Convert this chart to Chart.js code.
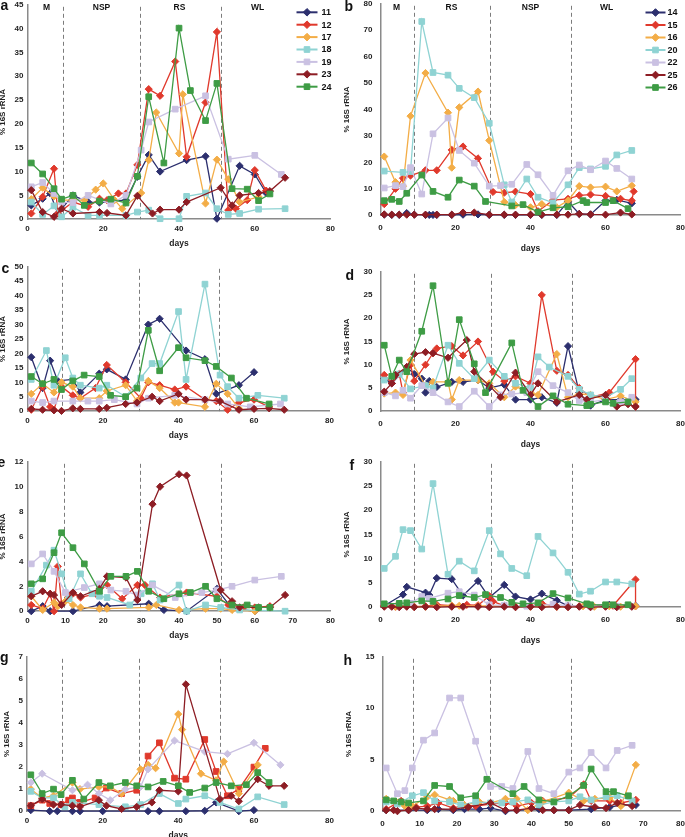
<!DOCTYPE html>
<html><head><meta charset="utf-8">
<script src="https://cdn.jsdelivr.net/npm/chart.js@4.4.0/dist/chart.umd.min.js"></script>
<style>
html,body{margin:0;padding:0;background:#fff;}
body{width:685px;height:837px;overflow:hidden;position:relative;}
canvas{position:absolute;}
</style>
</head><body>
<script>
// ---------- legend labels ----------
const leftLabels  = ['11','12','17','18','19','23','24'];
const rightLabels = ['14','15','16','20','22','25','26'];

// ---------- panel a ----------
const a11 = [[1,2.9],[4,4.3],[6,5.4],[8,1.2],[12,5.0],[16,3.6],[19,3.5],[22,3.8],[26,4.0],[29,8.9],[32,13.5],[35,10.0],[42,12.4],[47,13.2],[50,0.1],[56,11.2],[60,9.4],[63,5.5]];
const a12 = [[1,1.2],[4,4.7],[7,10.6],[8,1.2],[12,3.6],[16,2.6],[19,4.3],[21,4.0],[24,5.4],[26,5.4],[29,11.4],[32,27.3],[35,25.9],[39,33.1],[42,13.1],[47,24.5],[50,39.3],[53,1.9],[55,2.2],[58,4.0],[60,10.3],[63,6.0]];
const a17 = [[1,4.2],[4,6.6],[7,4.8],[9,4.0],[12,4.0],[15,4.0],[18,6.2],[20,7.5],[23,4.0],[25,2.2],[30,5.5],[32,12.4],[34,22.4],[40,13.8],[41,26.2],[47,3.3],[50,12.5],[53,8.4],[56,3.6],[61,4.7]];
const a18 = [[1,3.6],[4,1.0],[7,2.8],[9,0.5],[12,2.5],[16,0.8],[19,0.8],[26,0.8],[29,1.5],[32,1.9],[35,0.1],[40,0.1],[42,4.8],[47,5.5],[50,2.2],[53,1.0],[56,1.2],[61,2.1],[68,2.2]];
const a19 = [[1,6.8],[4,7.7],[7,5.4],[9,3.6],[12,3.5],[16,5.0],[22,3.2],[26,5.0],[30,14.5],[32,20.4],[39,23.1],[47,25.9],[53,12.6],[60,13.4],[67,9.4]];
const a23 = [[1,6.1],[4,1.5],[7,0.5],[9,2.2],[12,1.2],[19,1.5],[21,1.3],[26,0.8],[29,4.9],[33,1.2],[35,2.0],[40,2.0],[42,3.6],[51,6.6],[54,2.9],[56,5.0],[61,5.5],[64,5.9],[68,8.7]];
const a24 = [[1,11.8],[4,9.5],[7,6.4],[9,4.2],[12,5.0],[15,2.9],[19,3.8],[22,4.2],[26,3.4],[29,9.0],[32,25.7],[36,11.8],[40,40.1],[43,27.0],[47,20.7],[50,28.5],[54,6.4],[58,6.3],[61,3.9],[64,5.3]];

// ---------- panel b ----------
const b14 = [[1,0.2],[3,0.1],[5,0.1],[7,0.8],[9,0.2],[12,0.1],[13,0.1],[14,0.1],[15,0.1],[19,0.1],[22,0.2],[26,0.3],[29,0.1],[33,0.1],[36,0.1],[40,0.1],[43,0.1],[47,0.1],[50,5.2],[53,0.5],[56,0.3],[60,5.5],[63,5.8],[67,4.5]];
const b15 = [[1,4.2],[4,10],[6,14],[8,15],[12,17],[15,17],[19,24.7],[22,26],[26,21.5],[30,8.8],[33,8.5],[36,8.9],[40,8.0],[42,1.5],[46,5.7],[50,6.2],[53,7.5],[56,7.8],[60,7.3],[64,6.2],[67,5.5],[67.5,9.0]];
const b16 = [[1,22.2],[4,12.5],[6,11],[8,37.5],[12,53.8],[18,38.8],[19,18],[21,40.8],[26,46.8],[29,28.3],[33,5],[36,3.8],[40,3],[43,4.2],[47,3],[50,5.5],[53,11],[56,10.5],[60,10.8],[63,9],[67,11.2]];
const b20 = [[1,16.7],[6,16.2],[8,16.5],[11,73.3],[14,54],[18,53],[21,48],[25,44.5],[29,34.8],[33,11.5],[35,5],[39,13.7],[42,6.8],[46,4.7],[50,11.5],[53,18],[56,17.5],[60,18.5],[63,22.8],[67,24.5]];
const b22 = [[1,10.3],[4,11.2],[6,10.8],[8,18],[11,8],[14,30.8],[18,36.8],[21,24.5],[25,19.7],[29,11],[32,11.2],[35,11.7],[39,19.2],[42,15.3],[46,7.5],[50,16.8],[53,19],[56,17.2],[60,20.5],[63,17.7],[67,13.7]];
const b25 = [[1,0.3],[3,0.2],[5,0.2],[7,0.2],[9,0.2],[12,0.2],[15,0.2],[19,0.2],[22,1.0],[25,1.0],[29,0.2],[33,0.2],[36,0.2],[40,0.2],[43,0.2],[47,0.2],[50,0.2],[53,0.5],[56,0.3],[60,0.2],[64,1.0],[67,0.3]];
const b26 = [[1,5.5],[3,6],[5,5.2],[7,8.3],[11,15.2],[14,9],[18,6.8],[21,13.3],[25,11],[28,5.2],[35,3.5],[38,4],[42,1.2],[46,2.8],[50,3.2],[54,5.5],[55,4.8],[60,4.8],[62,5.5],[66,2.5]];

// ---------- panel c ----------
const c11 = [[1,18.7],[4,8],[6,17.5],[8,10.5],[12,11],[14,6.5],[19,13],[21,14.5],[26,11],[32,30],[35,32],[42,21],[47,18],[50,6],[56,9],[60,13.5]];
const c12 = [[1,0.5],[4,8.5],[6,1.5],[7,0.5],[9,8.5],[12,5.5],[14,4.5],[18,8],[21,16],[26,10],[30,4.5],[32,10],[35,9],[39,7.5],[42,8.5],[47,4],[50,3.5],[53,0.5],[56,3],[60,4],[64,1.5]];
const c17 = [[1,6],[4,9.5],[7,6.5],[9,10],[12,8.5],[14,4.5],[19,4.5],[21,7],[26,9],[29,3.5],[32,10.5],[35,8],[39,3],[40,3],[47,1.5],[50,9.5],[53,6],[56,1]];
const c18 = [[1,11],[5,21],[7,9],[10,18.5],[12,11.5],[14,9],[19,8],[21,9],[26,5],[30,11.5],[33,16.5],[35,16.5],[40,34.5],[42,11],[47,44],[51,12.5],[53,8.5],[56,4.5],[61,5.5],[68,4.5]];
const c19 = [[1,3.5],[4,3],[7,3.5],[12,3.5],[16,3.5],[19,3.5],[23,4],[29,2.5],[32,4.5],[39,5.5],[47,4],[53,2.5],[59,1.5],[67,2.5]];
const c23 = [[1,0.8],[4,0.5],[7,0.3],[9,0.1],[12,1],[14,0.8],[19,0.8],[21,1.2],[26,2.5],[29,3],[33,5],[35,3.5],[40,6],[42,4],[47,4],[51,3.5],[56,0.5],[60,0.8],[64,1],[68,0.5]];
const c24 = [[1,12],[4,9.5],[7,11],[9,7.5],[12,10.5],[15,12.5],[19,12],[22,5.5],[26,5],[29,8],[32,28],[35,14],[40,22],[42,18.5],[47,17.5],[50,15.5],[54,11.5],[58,4.5],[64,2.5]];

// ---------- panel d ----------
const d14 = [[1,7],[3,6],[7,9.5],[9,8],[11,7],[12,4],[13,6.5],[15,5.2],[19,6.3],[22,6.3],[26,6.7],[29,5],[33,5.7],[36,2.5],[40,2.5],[43,3],[47,1.8],[50,14],[53,4],[56,1.2],[60,2.5],[64,2.5],[68,2.5]];
const d15 = [[1,7.8],[3,6],[5,8],[6,4],[8,10],[9,6.5],[12,10],[14,12.5],[15,13.5],[19,14],[22,12],[26,15],[30,8.5],[33,6.5],[36,7.5],[40,6],[43,25],[47,8.7],[50,7.8],[53,5],[56,3],[61,4],[68,11.2],[68,1]];
const d16 = [[1,3.8],[4,4],[6,3.5],[8,11],[12,5.5],[14,6.3],[18,6.3],[19,2.5],[21,6.7],[26,6.7],[29,6],[33,3],[36,5.3],[40,4],[42,3.5],[47,12.3],[50,3],[53,3.7],[56,3.5],[60,2.5],[64,3.3],[68,2]];
const d20 = [[1,6.7],[5,8],[8,4.8],[12,5.5],[14,5],[18,14.2],[21,10.3],[25,7],[29,11],[33,7.5],[36,6],[40,5],[42,11.7],[45,9.5],[50,7.5],[53,4.7],[56,3.5],[60,3],[64,4.7],[67,7]];
const d22 = [[1,4],[4,3.3],[6,4.5],[8,2.8],[11,5.5],[14,4],[18,2],[21,1],[25,4.3],[29,1],[32,3.5],[35,3.7],[39,4],[42,8.5],[46,5.5],[50,4],[53,2.3],[56,2],[60,2.5],[64,2],[67,3]];
const d25 = [[1,4.2],[3,6],[4,7.8],[7,9.5],[9,12.3],[12,12.7],[14,12.5],[18,11.5],[23,15.3],[25,8.5],[29,5.5],[32,3],[36,8.3],[40,3.5],[42,6],[47,2],[53,3.5],[55,2.5],[60,3.5],[63,1],[66,1.5],[68,1]];
const d26 = [[1,14.2],[3,7.5],[5,11],[7,8.5],[11,17.2],[14,27],[18,6],[21,19.7],[25,10.2],[28,4],[35,14.7],[38,4.5],[42,1],[46,3.3],[50,1.5],[55,1.2],[56,1.5],[60,2],[62,1.7],[66,2]];

// ---------- panel e ----------
const e11 = [[1,0],[4,0.4],[6,0],[12,0],[19,0.5],[21,0.4],[32,0.6],[36,0.1],[42,0],[50,1.8],[54,0.2],[60,0]];
const e12 = [[1,0.5],[4,0.2],[6,1.4],[7,0],[8,3.6],[9,0.6],[11,1.2],[12,1.4],[14,1.1],[18,1.4],[21,2.1],[25,1.0],[29,2.1],[31,2.1],[35,1.1],[42,1.5],[50,1.2],[53,0.5],[57,0.3],[60,0.3],[64,0.4]];
const e17 = [[1,1.2],[4,0.1],[7,0.7],[8,0.4],[10,0.8],[12,0.5],[14,0.3],[19,0.2],[21,0.2],[32,0.3],[34,0.5],[40,0.1],[47,0.2],[51,0.2],[54,0.1],[60,0]];
const e18 = [[1,1.6],[5,3.7],[7,4.9],[9,3.0],[11,1.0],[14,3.0],[17,1.4],[19,1.2],[21,1.1],[27,0.5],[30,1.4],[33,2.2],[35,0.9],[40,2.1],[42,0],[47,0.5],[51,0.3],[56,0.1],[68,0]];
const e19 = [[1,3.8],[4,4.6],[7,3.2],[10,1.5],[15,1.9],[19,2.2],[22,1.7],[26,1.6],[29,1.3],[33,2.1],[39,1.1],[46,1.5],[50,1.7],[54,2.0],[60,2.5],[67,2.8]];
const e23 = [[1,1.2],[4,1.6],[6,1.4],[7,1.3],[9,0.5],[12,1.5],[14,1.2],[19,1.8],[21,2.8],[26,2.7],[29,0.9],[33,8.6],[35,10],[40,11],[42,10.9],[51,1.7],[54,0.8],[56,0.3],[61,0.3],[64,0.3],[68,1.3]];
const e24 = [[1,2.2],[4,2.6],[7,4.7],[9,6.3],[12,5.1],[15,3.8],[19,1.6],[22,2.8],[26,2.8],[29,3.2],[32,1.6],[36,1.0],[40,1.4],[43,1.5],[47,2.0],[50,1.0],[54,0.5],[58,0.5],[61,0.3],[64,0.3]];

// ---------- panel f ----------
const f14 = [[1,0.3],[6,2.6],[7,4.2],[12,3.0],[13,2.5],[15,6],[19,5.8],[22,2.4],[26,5.4],[29,2],[33,4.6],[36,2.2],[40,1.6],[43,2.8],[47,1.4],[50,0.3],[56,0.3],[61,0.5],[68,0.3]];
const f15 = [[1,0.3],[4,0.1],[7,0.3],[9,0.1],[12,0.2],[15,0.5],[19,0.3],[23,0.5],[26,0.4],[29,2.3],[30,1.2],[33,0.3],[36,0.1],[40,0.2],[43,0.8],[47,0.1],[50,0.2],[53,0.2],[56,0.2],[62,0.3],[68,5.7],[68,0.2]];
const f16 = [[1,0.2],[4,0.1],[7,0.2],[9,0.1],[12,0.1],[15,0.2],[19,0.3],[21,0.3],[26,0.2],[29,0.3],[33,0.2],[36,0.1],[40,0.1],[43,0.2],[47,0.1],[50,0.1],[54,0.2],[57,0.1],[61,0.2],[64,0.1],[68,0.2]];
const f20 = [[1,8],[4,10.5],[6,16],[8,15.8],[11,12],[14,25.5],[18,6.8],[21,9.5],[25,7.5],[29,15.8],[32,11],[35,8],[39,6.5],[42,14.6],[46,11.2],[50,7.2],[53,2.7],[56,3.3],[60,5.2],[63,5.2],[67,4.8]];
const f22 = [[1,0.5],[8,0.8],[11,2.2],[13,1.8],[18,2.9],[21,3.2],[25,2.5],[29,0.5],[33,0.4],[39,0.2],[46,0.6],[50,0.3],[56,0.2],[63,0.2]];
const f25 = [[1,0.1],[3,0.1],[5,0],[7,0.1],[9,0],[12,0.1],[15,0],[19,0.1],[22,0.1],[26,0.1],[29,0],[33,0.1],[36,0],[40,0.1],[43,0],[47,0.1],[50,0],[53,0.1],[56,0],[60,0.1],[63,0],[67,0.1]];
const f26 = [[1,0.7],[5,0.8],[7,0.9],[11,1.3],[14,1.2],[18,1.7],[21,2.4],[25,2.0],[28,2.6],[32,2.0],[35,1.0],[38,0.7],[42,0.9],[46,2.8],[50,1.9],[55,0.7],[56,0.5],[60,0.5],[62,0.5],[66,0.5]];

// ---------- panel g ----------
const g11 = [[1,0.05],[6,0],[8,0],[12,0],[14,0],[20,0],[32,0],[35,0],[42,0],[47,0.02],[50,0.4],[56,0],[60,0.05]];
const g12 = [[1,0.25],[4,0.5],[6,0.35],[9,0.3],[11,0.5],[12,0.6],[14,0.4],[18,0.6],[21,1.05],[25,0.8],[29,0.95],[32,2.5],[35,3.1],[39,1.5],[42,1.45],[47,3.25],[50,1.8],[53,0.7],[56,1.0],[60,2.0],[63,2.85]];
const g17 = [[1,1.0],[4,0.6],[7,0.7],[12,1.3],[14,1.0],[19,1.1],[22,1.1],[25,0.8],[30,1.9],[32,2.1],[34,1.95],[40,4.4],[41,3.7],[46,1.7],[50,1.4],[52,2.25],[56,0.8],[61,2.1]];
const g18 = [[1,0.9],[4,0.6],[7,0.6],[10,0.2],[12,0.4],[19,0.3],[26,0.2],[30,0.3],[35,0.8],[40,0.35],[42,0.55],[47,0.7],[51,0.4],[56,0.1],[61,0.65],[68,0.3]];
const g19 = [[1,1.3],[4,1.7],[12,0.95],[16,1.2],[19,0.8],[22,0.5],[26,1.0],[30,1.1],[32,1.9],[39,3.2],[47,2.7],[53,2.6],[60,3.1],[67,2.1]];
const g23 = [[1,0.25],[4,0.55],[7,0.3],[9,0.3],[12,0.25],[14,0.2],[19,0.5],[21,0.25],[25,0.1],[29,0.2],[33,0.4],[35,0.95],[40,0.9],[42,5.75],[51,0.55],[54,0.7],[56,0.45],[61,1.45],[64,1.15],[68,1.15]];
const g24 = [[1,1.65],[4,0.8],[7,1.0],[9,0.75],[12,1.4],[15,0.55],[19,1.3],[22,1.15],[26,1.3],[29,1.15],[32,1.1],[36,1.35],[40,1.15],[43,0.85],[47,1.05],[50,1.3],[54,1.15],[58,1.2],[61,1.75],[64,1.3]];

// ---------- panel h ----------
const h14 = [[1,0.1],[7,0.1],[12,0.1],[15,0.2],[19,0.1],[22,0.2],[26,0.2],[29,0.3],[33,0],[36,0.1],[42,0.2],[46,0.1],[50,0.1],[56,0.2],[61,0.4],[64,0.6],[68,0.6]];
const h15 = [[1,0.2],[5,1.0],[9,0.4],[12,0.5],[15,0.8],[19,0.3],[22,0.6],[25,0.5],[29,0.7],[33,0.8],[36,0.5],[40,0.8],[43,1.0],[50,1.3],[54,2.6],[56,1.0],[61,1.0],[64,0.8],[68,1.1]];
const h16 = [[1,1.2],[4,0.8],[6,0.5],[8,0.5],[12,1.4],[14,1.6],[18,1.1],[19,1.0],[22,0.6],[26,0.9],[29,0.8],[33,1.2],[36,1.2],[39,0.1],[43,0.9],[50,1.8],[54,1.0],[57,1.2],[61,1.3],[64,0.5],[68,4.5]];
const h20 = [[1,0.9],[4,0.7],[8,1.5],[11,1.8],[14,1.0],[18,0.9],[21,0.6],[25,0.9],[29,0.8],[32,0.8],[35,0.9],[39,1.1],[42,0.6],[46,0.9],[50,1.0],[53,1.4],[56,1.1],[60,1.4],[63,1.5],[67,1.0]];
const h22 = [[1,4.2],[4,1.7],[6,2.0],[8,4.2],[11,6.9],[14,7.6],[18,11],[21,11],[25,6.8],[29,2.4],[32,2.4],[35,2.2],[39,5.8],[42,2.2],[46,1.7],[50,3.8],[53,4.2],[56,5.7],[60,4.2],[63,5.9],[67,6.4]];
const h25 = [[1,0.1],[3,0.1],[4,0],[7,0.1],[9,0.3],[12,0.2],[14,0.2],[19,0.2],[23,0.4],[29,0.8],[33,0.1],[36,0.1],[40,0.3],[43,0.1],[46,0.1],[50,0.1],[53,0.6],[57,0.4],[60,0.3],[63,0.8],[67,0.5]];
const h26 = [[1,1.1],[3,1.0],[5,0.9],[7,0.8],[11,1.0],[14,2.5],[18,2.4],[21,1.3],[25,1.5],[28,3.1],[35,1.7],[38,2.4],[42,1.1],[46,0.9],[50,1.5],[54,2.5],[56,4.1],[60,1.9],[62,1.9],[66,1.5]];

// ---------- styles ----------
const FONT = "'Liberation Sans', Arial, Helvetica, sans-serif";
const STYLES = [
  {color:'#2c2f6e', shape:'rectRot'},
  {color:'#e0392c', shape:'rectRot'},
  {color:'#f3ad47', shape:'rectRot'},
  {color:'#8fd3d3', shape:'rect'},
  {color:'#cac1e2', shape:'rect'},
  {color:'#8d1d24', shape:'rectRot'},
  {color:'#3e9c45', shape:'rect'}
];
Chart.defaults.font.family = FONT;
Chart.defaults.font.weight = 'bold';
Chart.defaults.font.size = 8;
Chart.defaults.color = '#222';

const LEG_L = {labels:leftLabels, x0:296, x1:317, mx:306.5, tx:321, y0:12.5, dy:12.4};
const LEG_R = {labels:rightLabels, x0:645, x1:665, mx:655, tx:667, y0:12.7, dy:12.5};

const panels = [
  {series:[a11,a12,a17,a18,a19,a23,a24], side:'L', area:[27,5,330,219], yMax:45, yStep:5, xStep:20, dashes:[9.4,29.6,51],
   letter:['a',0,10], legend:LEG_L, phases:[['M',46],['NSP',101],['RS',179],['WL',257]]},
  {series:[b14,b15,b16,b20,b22,b25,b26], side:'R', area:[380,4,680,215], yMax:80, yStep:10, xStep:20, dashes:[8.8,29.2,50.9],
   letter:['b',344,11], legend:LEG_R, phases:[['M',396],['RS',451],['NSP',530],['WL',606]]},
  {series:[c11,c12,c17,c18,c19,c23,c24], side:'L', area:[27,267,329,411], yMax:50, yStep:5, xStep:20, dashes:[9.2,29.5,50.8],
   letter:['c',1,273]},
  {series:[d14,d15,d16,d20,d22,d25,d26], side:'R', area:[380,272,680,411], yMax:30, yStep:5, xStep:20, dashes:[9,29.4,51],
   letter:['d',345,280]},
  {series:[e11,e12,e17,e18,e19,e23,e24], side:'L', area:[27,462,330,611], yMax:12, yStep:2, xStep:10, dashes:[9.6,29.7,51.1],
   letter:['e',-3,467]},
  {series:[f14,f15,f16,f20,f22,f25,f26], side:'R', area:[380,462,680,607], yMax:30, yStep:5, xStep:20, dashes:[9,29.4,51],
   letter:['f',349,470]},
  {series:[g11,g12,g17,g18,g19,g23,g24], side:'L', area:[27,657,330,811], yMax:7, yStep:1, xStep:20, dashes:[9.3,29.6,51],
   letter:['g',0,662], shapes:{1:'rect',4:'rectRot'}},
  {series:[h14,h15,h16,h20,h22,h25,h26], side:'R', area:[382,657,680,811], yMax:15, yStep:5, xStep:10, dashes:[8.1,28.9,50.7],
   letter:['h',343,665]}
];

function marker(ctx, shape, x, y, r, color) {
  ctx.save();
  ctx.fillStyle = color; ctx.strokeStyle = color; ctx.lineWidth = 1;
  ctx.beginPath();
  if (shape === 'rectRot') {
    ctx.moveTo(x - r, y); ctx.lineTo(x, y - r); ctx.lineTo(x + r, y); ctx.lineTo(x, y + r); ctx.closePath();
  } else {
    const s = r * Math.SQRT1_2;
    ctx.rect(x - s, y - s, 2 * s, 2 * s);
  }
  ctx.fill(); ctx.stroke();
  ctx.restore();
}

function buildConfig(p, ox, oy) {
  const R = p.side === 'R';
  const datasets = p.series.map((pts, i) => {
    const st = STYLES[i];
    const shape = (p.shapes && p.shapes[i]) || st.shape;
    return {
      data: pts.map(([x, y]) => ({x, y})),
      borderColor: st.color, backgroundColor: st.color,
      pointBackgroundColor: st.color, pointBorderColor: st.color,
      pointStyle: shape, pointRadius: shape === 'rect' ? 4 : 3.6, pointBorderWidth: 1,
      pointHoverRadius: 4, borderWidth: 1.3, tension: 0, fill: false, order: -i, clip: false
    };
  });
  const overlay = {
    id: 'overlay',
    beforeDatasetsDraw(chart) {
      const ctx = chart.ctx, xs = chart.scales.x, ca = chart.chartArea;
      ctx.save();
      ctx.strokeStyle = '#7c7c7c'; ctx.lineWidth = 1; ctx.setLineDash([4, 3]);
      p.dashes.forEach(d => {
        const x = Math.round(xs.getPixelForValue(d)) + 0.5;
        ctx.beginPath(); ctx.moveTo(x, ca.top + 2); ctx.lineTo(x, ca.bottom); ctx.stroke();
      });
      ctx.restore();
    },
    afterDraw(chart) {
      const ctx = chart.ctx;
      ctx.save();
      ctx.fillStyle = '#111';
      ctx.font = 'bold 14px ' + FONT;
      ctx.textAlign = 'left'; ctx.textBaseline = 'alphabetic';
      ctx.fillText(p.letter[0], p.letter[1] - ox, p.letter[2] - oy);
      if (p.phases) {
        ctx.font = 'bold 8.5px ' + FONT;
        ctx.textAlign = 'center'; ctx.textBaseline = 'middle';
        p.phases.forEach(([t, x]) => ctx.fillText(t, x - ox, 7.5 - oy));
      }
      if (p.legend) {
        const L = p.legend;
        L.labels.forEach((lab, i) => {
          const y = L.y0 + i * L.dy - oy;
          const st = STYLES[i];
          ctx.strokeStyle = st.color; ctx.lineWidth = 2;
          ctx.beginPath(); ctx.moveTo(L.x0 - ox, y); ctx.lineTo(L.x1 - ox, y); ctx.stroke();
          marker(ctx, st.shape, L.mx - ox, y, st.shape === 'rect' ? 4 : 3.8, st.color);
          ctx.fillStyle = '#111';
          ctx.font = 'bold 9px ' + FONT;
          ctx.textAlign = 'left'; ctx.textBaseline = 'middle';
          ctx.fillText(lab, L.tx - ox, y + 0.5);
        });
      }
      ctx.restore();
    }
  };
  return {
    type: 'line',
    data: {datasets},
    options: {
      responsive: false, animation: false, devicePixelRatio: 1,
      layout: {padding: {left: 2, top: 4, right: 8, bottom: 2}},
      plugins: {legend: {display: false}, tooltip: {enabled: false}},
      events: [],
      scales: {
        x: {
          type: 'linear', min: 0, max: 80,
          ticks: {stepSize: p.xStep, autoSkip: false, padding: R ? 8 : 5, color: '#222', font: {size: 8, weight: 'bold'}},
          grid: {display: false, drawTicks: false, tickLength: 0},
          border: {display: true, color: '#8a8a8a', width: 1.5},
          title: {display: true, text: 'days', color: '#222', font: {size: 8.5, weight: 'bold'}, padding: {top: R ? 3 : 0, bottom: 0}}
        },
        y: {
          type: 'linear', min: 0, max: p.yMax,
          ticks: {stepSize: p.yStep, autoSkip: false, padding: R ? 8 : 4, color: '#222', font: {size: 8, weight: 'bold'}},
          grid: {display: false, drawTicks: false, tickLength: 0},
          border: {display: true, color: '#8a8a8a', width: 1.5},
          title: {display: true, text: '% 16S rRNA', color: '#222', font: {size: 8, weight: 'bold'}, padding: {top: 0, bottom: R ? 4 : 3}}
        }
      }
    },
    plugins: [overlay]
  };
}

function makePanel(p) {
  const cv = document.createElement('canvas');
  document.body.appendChild(cv);
  const tw = p.area[2] - p.area[0], th = p.area[3] - p.area[1];
  let W = tw + 70, H = th + 50;
  cv.width = W; cv.height = H; cv.style.width = W + 'px'; cv.style.height = H + 'px';
  let ch = new Chart(cv, buildConfig(p, 0, 0));
  const ca = ch.chartArea;
  const W2 = Math.round(W + (tw - (ca.right - ca.left)));
  const H2 = Math.round(H + (th - (ca.bottom - ca.top)));
  const ox = p.area[0] - ca.left, oy = p.area[1] - ca.top;
  ch.destroy();
  cv.width = W2; cv.height = H2; cv.style.width = W2 + 'px'; cv.style.height = H2 + 'px';
  cv.style.left = ox + 'px'; cv.style.top = oy + 'px';
  new Chart(cv, buildConfig(p, ox, oy));
}
panels.forEach(makePanel);
</script>
</body></html>
